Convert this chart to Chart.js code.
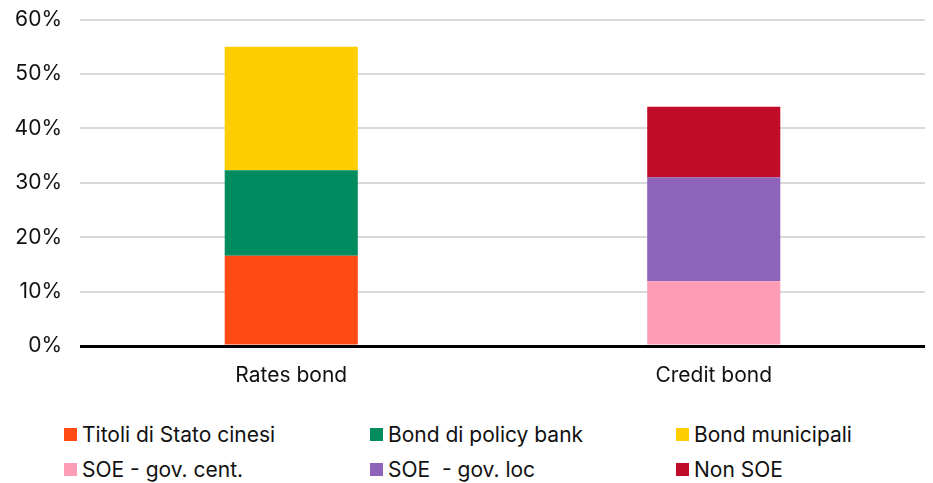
<!DOCTYPE html>
<html lang="it">
<head>
<meta charset="UTF-8">
<script src="https://cdn.jsdelivr.net/npm/chart.js"></script>
<title>Rates bond vs Credit bond</title>
<style>
  html, body { margin: 0; padding: 0; background: #fff; }
  body { width: 933px; height: 483px; position: relative; overflow: hidden; font-family: "Inter", sans-serif; }
  #wrap { position: absolute; left: 0; top: -11px; width: 933px; height: 400px; }
  #legend {
    position: absolute; left: 64px; top: 422px;
    display: grid; grid-template-columns: 306px 306px 240px; row-gap: 10px;
    font-size: 21px; color: #111;
  }
  .item { display: flex; align-items: center; height: 25px; white-space: pre; }
  .box { width: 13px; height: 13px; margin-right: 5px; flex: none; }
</style>
</head>
<body>
<div id="wrap"><canvas id="c" width="933" height="400"></canvas></div>
<div id="legend"></div>
<script>
var categories = ['Rates bond', 'Credit bond'];
var seriesNames = ['Titoli di Stato cinesi', 'Bond di policy bank', 'Bond municipali',
                   'SOE - gov. cent.', 'SOE  - gov. loc', 'Non SOE'];
var titoliStato = [16.6, null];
var policyBank = [15.7, null];
var municipali = [22.7, null];
var soeCent = [null, 11.9];
var soeLoc = [null, 19.1];
var nonSoe = [null, 13.0];
var colors = ['#ff4a14', '#008c5e', '#ffcd00', '#fd9db5', '#8e63ba', '#c00c28'];
var yTicks = [0, 10, 20, 30, 40, 50, 60];

var values = [titoliStato, policyBank, municipali, soeCent, soeLoc, nonSoe];
var datasets = seriesNames.map(function (n, i) {
  return {
    label: n,
    data: values[i],
    backgroundColor: colors[i],
    borderWidth: 0,
    barPercentage: 0.315,
    categoryPercentage: 1
  };
});

Chart.defaults.font.family = 'Inter, sans-serif';
Chart.defaults.font.size = 21;
Chart.defaults.color = '#111';

new Chart(document.getElementById('c'), {
  type: 'bar',
  data: { labels: categories, datasets: datasets },
  options: {
    responsive: false,
    animation: false,
    layout: { padding: { left: 0, right: 8, top: 0, bottom: 0 } },
    plugins: { legend: { display: false }, tooltip: { enabled: false } },
    scales: {
      x: {
        stacked: true,
        grid: { display: false },
        border: { display: false },
        ticks: { padding: 9 },
        afterFit: function (axis) { axis.height = 43; }
      },
      y: {
        stacked: true,
        min: 0, max: 60,
        afterBuildTicks: function (axis) {
          axis.ticks = yTicks.map(function (v) { return { value: v }; });
        },
        afterFit: function (axis) { axis.width = 80; },
        border: { display: false },
        grid: {
          drawTicks: false,
          color: function (ctx) { return ctx.tick && ctx.tick.value === 0 ? '#000' : '#d9d9d9'; },
          lineWidth: function (ctx) { return ctx.tick && ctx.tick.value === 0 ? 3 : 2; }
        },
        ticks: {
          padding: 18,
          callback: function (v) { return v + '%'; }
        }
      }
    }
  }
});

var legend = document.getElementById('legend');
seriesNames.forEach(function (n, i) {
  var d = document.createElement('div');
  d.className = 'item';
  d.innerHTML = '<span class="box" style="background:' + colors[i] + '"></span><span></span>';
  d.lastChild.textContent = n;
  legend.appendChild(d);
});
</script>
</body>
</html>
